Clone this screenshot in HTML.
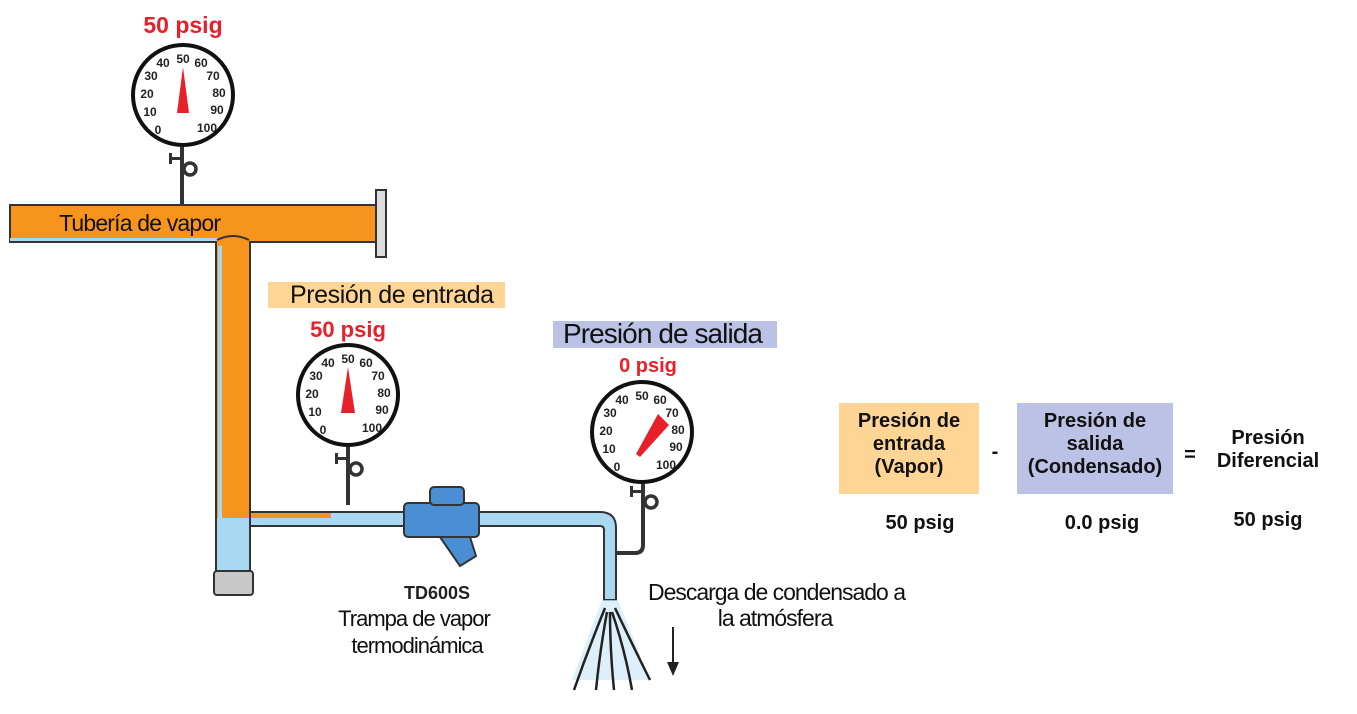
<!DOCTYPE html>
<html><head><meta charset="utf-8"><style>
html,body{margin:0;padding:0;background:#fff;}
svg{display:block;font-family:"Liberation Sans",sans-serif;}
.num{font-size:12px;font-weight:bold;fill:#222;text-anchor:middle;}
.red{fill:#e8202a;font-weight:bold;text-anchor:middle;}
.lbl{fill:#111;letter-spacing:-1px;}
.b{font-weight:bold;fill:#111;text-anchor:middle;font-size:20px;}
</style></head><body>
<svg width="1357" height="714" viewBox="0 0 1357 714">
<defs>
<g id="face">
  <circle r="50" fill="#fff" stroke="#111" stroke-width="4"/>
  <text class="num" x="-25" y="39">0</text>
  <text class="num" x="-33" y="21">10</text>
  <text class="num" x="-36" y="3">20</text>
  <text class="num" x="-32" y="-15">30</text>
  <text class="num" x="-20" y="-28">40</text>
  <text class="num" x="0" y="-32">50</text>
  <text class="num" x="18" y="-28">60</text>
  <text class="num" x="30" y="-15">70</text>
  <text class="num" x="36" y="2">80</text>
  <text class="num" x="34" y="19">90</text>
  <text class="num" x="24" y="37">100</text>
</g>
<g id="valve">
  <rect x="-2" y="0" width="4" height="58" fill="#333"/>
  <rect x="-13" y="10" width="12" height="3" fill="#333"/>
  <rect x="-13" y="6" width="3" height="11" fill="#333"/>
  <circle cx="8" cy="22" r="6" fill="none" stroke="#333" stroke-width="3.5"/>
</g>
</defs>

<text class="red" x="183" y="33" font-size="23">50 psig</text>
<use href="#valve" x="182" y="147"/>
<g transform="translate(183,95)"><use href="#face"/><polygon points="-6,18 6,18 0,-28" fill="#e8202a"/></g>

<rect x="216" y="237" width="34" height="335" fill="#f7941d" stroke="#333" stroke-width="2"/>
<rect x="217" y="518" width="32" height="53" fill="#a9d8f2"/>
<rect x="218" y="245" width="4" height="273" fill="#a9d8f2"/>
<rect x="214" y="571" width="39" height="24" rx="3" fill="#c8c8c8" stroke="#333" stroke-width="2"/>
<rect x="10" y="205" width="368" height="37" fill="#f7941d" stroke="#333" stroke-width="2"/>
<rect x="10" y="238" width="210" height="3" fill="#a9d8f2"/>
<path d="M217,240 Q233,232 249,240 L249,246 L217,246 Z" fill="#f7941d"/>
<path d="M217,240 Q233,232 249,240" fill="none" stroke="#333" stroke-width="2"/>
<rect x="376" y="190" width="10" height="67" fill="#ddd" stroke="#333" stroke-width="2"/>
<text class="lbl" x="59" y="231" font-size="23" textLength="161">Tubería de vapor</text>

<path d="M250,512 L600,512 Q616,512 616,528 L616,600 L604,600 L604,530 Q604,526 600,526 L250,526 Z" fill="#a9d8f2" stroke="#333" stroke-width="2"/>
<rect x="251" y="513" width="80" height="5" fill="#f7941d"/>

<rect x="268" y="282" width="237" height="26" fill="#fed595"/>
<text class="lbl" x="290" y="303" font-size="25" textLength="203">Presión de entrada</text>
<text class="red" x="348" y="337" font-size="22">50 psig</text>
<use href="#valve" x="348" y="447"/>
<g transform="translate(348,395)"><use href="#face"/><polygon points="-7,18 7,18 0,-28" fill="#e8202a"/></g>

<rect x="553" y="321" width="224" height="27" fill="#bcc1e6"/>
<text class="lbl" x="563" y="343" font-size="28" textLength="199">Presión de salida</text>
<text class="red" x="648" y="372" font-size="20">0 psig</text>
<path d="M643,480 L643,545 Q643,553 635,553 L616,553" fill="none" stroke="#333" stroke-width="4"/>
<use href="#valve" x="643" y="480" />
<g transform="translate(642,432)"><use href="#face"/><polygon points="-6,22 -2,25 27,-7 16,-18" fill="#e8202a"/></g>

<rect x="404" y="503" width="75" height="34" rx="4" fill="#4a8fd4" stroke="#333" stroke-width="2"/>
<rect x="430" y="487" width="34" height="18" rx="4" fill="#4a8fd4" stroke="#333" stroke-width="2"/>
<path d="M440,537 L460,566 L476,556 L470,537 Z" fill="#4a8fd4" stroke="#333" stroke-width="2"/>
<text x="437" y="599" font-size="18" font-weight="bold" fill="#222" text-anchor="middle">TD600S</text>
<text class="lbl" x="414" y="626" text-anchor="middle" font-size="22">Trampa de vapor</text>
<text class="lbl" x="417" y="653" text-anchor="middle" font-size="22">termodinámica</text>

<path d="M602,600 L618,600 L650,680 L572,680 Z" fill="#cfe8f6" opacity="0.7"/>
<g stroke="#222" stroke-width="2.5" fill="none">
<path d="M605,608 Q588,650 574,690"/>
<path d="M607,612 Q600,650 596,690"/>
<path d="M610,612 Q610,650 614,690"/>
<path d="M612,612 Q625,650 632,690"/>
<path d="M615,608 Q635,650 650,680"/>
</g>
<text class="lbl" x="648" y="600" font-size="23" textLength="257">Descarga de condensado a</text>
<text class="lbl" x="775" y="626" text-anchor="middle" font-size="23">la atmósfera</text>
<line x1="673" y1="627" x2="673" y2="665" stroke="#222" stroke-width="2"/>
<polygon points="667,662 679,662 673,676" fill="#222"/>

<rect x="839" y="403" width="140" height="91" fill="#fed595"/>
<text class="b" x="909" y="427">Presión de</text>
<text class="b" x="909" y="450">entrada</text>
<text class="b" x="909" y="473">(Vapor)</text>
<text class="b" x="995" y="458">-</text>
<rect x="1017" y="403" width="156" height="91" fill="#bcc1e6"/>
<text class="b" x="1095" y="427">Presión de</text>
<text class="b" x="1095" y="450">salida</text>
<text class="b" x="1095" y="473">(Condensado)</text>
<text class="b" x="1190" y="461">=</text>
<text class="b" x="1268" y="444">Presión</text>
<text class="b" x="1268" y="467">Diferencial</text>
<text class="b" x="920" y="529" font-size="22">50 psig</text>
<text class="b" x="1102" y="529" font-size="22">0.0 psig</text>
<text class="b" x="1268" y="526" font-size="22">50 psig</text>
</svg>
</body></html>
